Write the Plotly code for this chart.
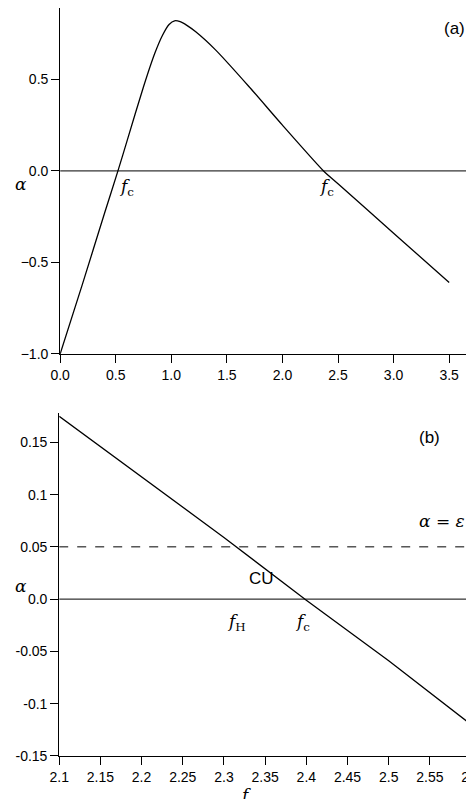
import plotly.graph_objects as go

# panel (a)
fa = [0, 0.2, 0.4, 0.52, 0.6, 0.75, 0.85, 0.92, 0.98, 1.03, 1.08, 1.14, 1.22, 1.4, 1.7, 2.0, 2.37, 2.5, 3.0, 3.5]
alpha_a = [-1.0, -0.62, -0.23, 0.0, 0.16, 0.46, 0.64, 0.74, 0.8, 0.82, 0.815, 0.795, 0.76, 0.66, 0.46, 0.25, 0.0, -0.07, -0.34, -0.61]
# panel (b)
fb = [2.1, 2.2, 2.3, 2.4, 2.5, 2.6]
alpha_b = [0.175, 0.117, 0.059, -0.001, -0.059, -0.12]
eps = 0.05

FONT = "Liberation Sans, Arial, sans-serif"
fig = go.Figure()
line = dict(color="black", width=1.3)
fig.add_trace(go.Scatter(x=fa, y=alpha_a, mode="lines", line=dict(color="black", width=1.3, shape="spline", smoothing=0.6), xaxis="x", yaxis="y"))
fig.add_trace(go.Scatter(x=[0, 3.71], y=[0, 0], mode="lines", line=dict(color="black", width=1), xaxis="x", yaxis="y"))
fig.add_trace(go.Scatter(x=fb, y=alpha_b, mode="lines", line=line, xaxis="x2", yaxis="y2"))
fig.add_trace(go.Scatter(x=[2.1, 2.6], y=[0, 0], mode="lines", line=dict(color="black", width=1), xaxis="x2", yaxis="y2"))
fig.add_trace(go.Scatter(x=[2.1, 2.6], y=[eps, eps], mode="lines", line=dict(color="black", width=1, dash="dash"), xaxis="x2", yaxis="y2"))

ax = dict(showline=True, linecolor="black", linewidth=1, ticks="outside", ticklen=8, tickcolor="black",
          showgrid=False, zeroline=False, automargin=False, tickfont=dict(size=14, color="black", family=FONT))
fig.update_layout(
    width=474, height=799, margin=dict(l=0, r=0, t=0, b=0),
    paper_bgcolor="white", plot_bgcolor="white", showlegend=False,
    xaxis=dict(ax, domain=[0.11, 0.98], range=[0, 3.71], dtick=0.5, tickformat=".1f", anchor="y"),
    yaxis=dict(ax, domain=[0.567, 1.0], range=[-1.0, 0.89], dtick=0.5, tickformat=".1f", anchor="x"),
    xaxis2=dict(ax, domain=[0.108, 0.977], range=[2.1, 2.6], dtick=0.05, anchor="y2"),
    yaxis2=dict(ax, domain=[0.064, 0.493], range=[-0.15, 0.178], tickvals=[-0.15, -0.1, -0.05, 0, 0.05, 0.1, 0.15],
                ticktext=["-0.15", "-0.1", "-0.05", "0.0", "0.05", "0.1", "0.15"], anchor="x2"),
)
it = dict(family="DejaVu Serif, serif", size=17, color="black")
anns = [
    dict(x=0.6, y=-0.09, xref="x", yref="y", text="<i>f</i><sub>c</sub>"),
    dict(x=2.4, y=-0.09, xref="x", yref="y", text="<i>f</i><sub>c</sub>"),
    dict(x=3.55, y=0.78, xref="x", yref="y", text="(a)", font=dict(size=17, family=FONT, color="black")),
    dict(x=2.315, y=-0.022, xref="x2", yref="y2", text="<i>f</i><sub>H</sub>"),
    dict(x=2.395, y=-0.022, xref="x2", yref="y2", text="<i>f</i><sub>c</sub>"),
    dict(x=2.345, y=0.02, xref="x2", yref="y2", text="CU", font=dict(size=17, family=FONT, color="black")),
    dict(x=2.565, y=0.075, xref="x2", yref="y2", text="<i>α</i> = <i>ε</i>"),
    dict(x=2.55, y=0.155, xref="x2", yref="y2", text="(b)", font=dict(size=17, family=FONT, color="black")),
    dict(x=0.01, y=1 - 164 / 799, xref="paper", yref="paper", text="<i>α</i>"),
    dict(x=0.01, y=1 - 590 / 799, xref="paper", yref="paper", text="<i>α</i>"),
    dict(x=0.5, y=0.0, xref="paper", yref="paper", yanchor="bottom", text="<i>f</i>"),
]
for a in anns:
    a.setdefault("font", it)
    a["showarrow"] = False
fig.update_layout(annotations=anns)
fig.write_html("out.html")
